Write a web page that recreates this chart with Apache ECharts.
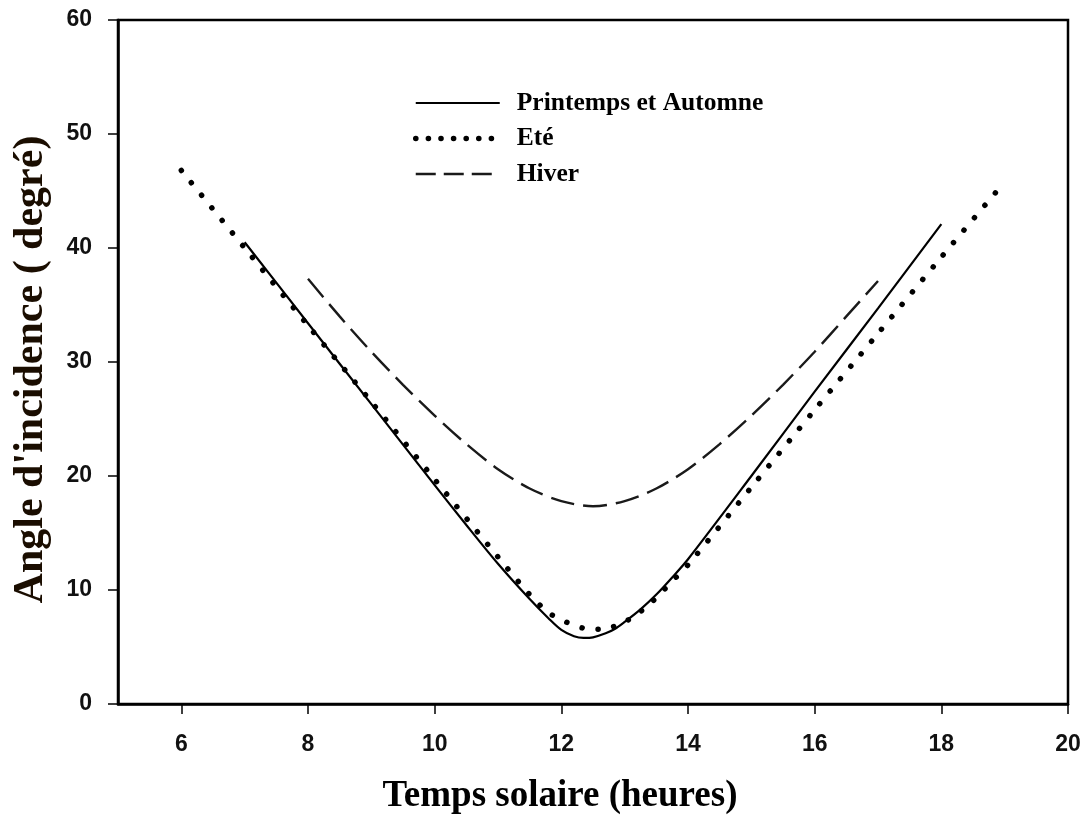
<!DOCTYPE html>
<html>
<head>
<meta charset="utf-8">
<script src="https://cdn.jsdelivr.net/npm/echarts@6/dist/echarts.min.js"></script>
<style>
    html, body { margin: 0; padding: 0; background: #fff; }
    #chart { width: 1085px; height: 820px; }
</style>
</head>
<body>
<div id="chart"></div>
<script>
// Printemps et Automne
var heuresPrintemps = [7, 8, 9, 10, 10.5, 11, 11.5, 11.8, 12, 12.2, 12.35, 12.5, 12.7, 12.85, 13, 13.25, 13.5, 13.75, 14, 15, 16, 17, 18];
var anglePrintemps  = [40.5, 33.4, 26.3, 19.2, 15.7, 12.3, 9.2, 7.5, 6.5, 5.95, 5.8, 5.85, 6.2, 6.6, 7.2, 8.3, 9.6, 11.1, 12.7, 20.0, 27.4, 34.7, 42.1];

// Eté
var heuresEte = [6, 7, 8, 9, 10, 11, 11.5, 11.8, 12, 12.2, 12.4, 12.6, 12.8, 13, 13.2, 13.4, 13.6, 13.8, 14, 15, 16, 17, 18, 19];
var angleEte  = [46.8, 40.0, 33.2, 26.5, 19.7, 12.9, 9.6, 8.0, 7.4, 6.9, 6.6, 6.55, 6.75, 7.2, 7.9, 8.8, 9.9, 11.05, 12.2, 19.0, 25.8, 32.5, 39.2, 45.8];

// Hiver
var heuresHiver = [8, 8.5, 9, 9.5, 10, 10.5, 11, 11.5, 12, 12.5, 13, 13.5, 14, 14.5, 15, 15.5, 16, 16.5, 17];
var angleHiver  = [37.3, 34.0, 30.9, 28.0, 25.3, 22.8, 20.6, 18.9, 17.8, 17.35, 17.8, 18.9, 20.6, 22.8, 25.3, 28.0, 30.9, 34.0, 37.1];

var xTicks = [6, 8, 10, 12, 14, 16, 18, 20];
var yTicks = [0, 10, 20, 30, 40, 50, 60];

function pairs(xs, ys) {
    var out = [];
    for (var i = 0; i < xs.length; i++) {
        out.push([xs[i], ys[i]]);
    }
    return out;
}

var serifFamily = '"Liberation Serif", "Times New Roman", serif';
var sansFamily = '"Liberation Sans", Arial, sans-serif';

var styleSolid = { color: '#000', width: 2.2 };
var styleDots = { color: '#000', width: 5.5, type: [0.1, 16], cap: 'round' };
var styleDash = { color: '#1a1a1a', width: 2.4, type: [24, 9] };

var mychart = echarts.init(document.getElementById('chart'));
var option = {
    animation: false,
    backgroundColor: '#fff',
    grid: {
        left: 118,
        right: 17,
        top: 20,
        bottom: 115,
        show: true,
        borderColor: '#000',
        borderWidth: 2.5
    },
    legend: {
        orient: 'vertical',
        left: 408,
        top: 85,
        itemWidth: 84,
        itemHeight: 30,
        itemGap: 9.5,
        selectedMode: false,
        itemStyle: { opacity: 0 },
        data: [
            { name: 'Printemps et Automne', lineStyle: styleSolid },
            { name: 'Eté', lineStyle: { color: '#000', width: 5.5, type: [0.1, 12.5], cap: 'round' } },
            { name: 'Hiver', lineStyle: { color: '#1a1a1a', width: 2.4, type: [20, 8] } }
        ],
        textStyle: {
            fontFamily: serifFamily,
            fontWeight: 'bold',
            fontSize: 25.5,
            color: '#000',
            padding: [0, 0, 0, 12]
        }
    },
    xAxis: {
        type: 'value',
        min: 5,
        max: 20,
        name: 'Temps solaire (heures)',
        nameLocation: 'middle',
        nameGap: 74,
        nameTextStyle: {
            fontFamily: serifFamily,
            fontWeight: 'bold',
            fontSize: 37,
            color: '#000',
            padding: [0, 66, 0, 0]
        },
        splitLine: { show: false },
        axisLine: { lineStyle: { color: '#000', width: 2.5 } },
        axisTick: {
            inside: false,
            length: 10,
            customValues: xTicks,
            lineStyle: { color: '#000', width: 1.5 }
        },
        axisLabel: {
            customValues: xTicks,
            margin: 29,
            fontFamily: sansFamily,
            fontWeight: 'bold',
            fontSize: 23,
            color: '#111'
        }
    },
    yAxis: {
        type: 'value',
        min: 0,
        max: 60,
        interval: 10,
        name: "Angle d'incidence ( degré)",
        nameLocation: 'middle',
        nameGap: 66,
        nameTextStyle: {
            fontFamily: serifFamily,
            fontWeight: 'bold',
            fontSize: 42,
            color: '#1a0d00',
            padding: [0, 15, 0, 0]
        },
        splitLine: { show: false },
        axisLine: { show: true, lineStyle: { color: '#000', width: 2.5 } },
        axisTick: {
            show: true,
            inside: false,
            length: 10,
            customValues: yTicks,
            lineStyle: { color: '#000', width: 1.5 }
        },
        axisLabel: {
            margin: 26,
            fontFamily: sansFamily,
            fontWeight: 'bold',
            fontSize: 23,
            color: '#111'
        }
    },
    series: [
        {
            name: 'Printemps et Automne',
            type: 'line',
            data: pairs(heuresPrintemps, anglePrintemps),
            smooth: 0.3,
            showSymbol: false,
            symbol: 'none',
            itemStyle: { color: '#000' },
            lineStyle: styleSolid
        },
        {
            name: 'Eté',
            type: 'line',
            data: pairs(heuresEte, angleEte),
            smooth: 0.3,
            showSymbol: false,
            symbol: 'none',
            itemStyle: { color: '#000' },
            lineStyle: styleDots
        },
        {
            name: 'Hiver',
            type: 'line',
            data: pairs(heuresHiver, angleHiver),
            smooth: 0.3,
            showSymbol: false,
            symbol: 'none',
            itemStyle: { color: '#000' },
            lineStyle: styleDash
        }
    ]
};
mychart.setOption(option);
</script>
</body>
</html>
